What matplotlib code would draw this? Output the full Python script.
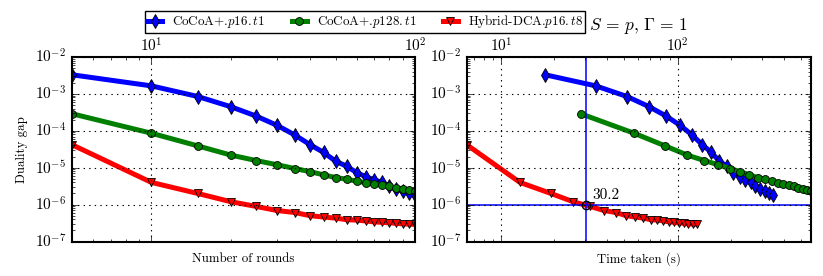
import matplotlib
matplotlib.use('Agg')
import matplotlib.pyplot as plt

# ---------------- data ----------------
rounds = [5, 10, 15, 20, 25, 30, 35, 40, 45, 50, 55, 60, 65, 70, 75, 80, 85, 90, 95, 100]

gap_cocoa_p16 = [3.3e-3, 1.65e-3, 8.5e-4, 4.5e-4, 2.5e-4, 1.4e-4, 7.7e-5, 4.2e-5, 2.6e-5, 1.5e-5,
                 1.1e-5, 7.4e-6, 5.7e-6, 4.7e-6, 4.0e-6, 3.1e-6, 2.6e-6, 2.35e-6, 2.0e-6, 1.8e-6]
gap_cocoa_p128 = [2.9e-4, 8.6e-5, 3.9e-5, 2.2e-5, 1.56e-5, 1.2e-5, 9.5e-6, 7.8e-6, 6.4e-6, 5.4e-6,
                  4.9e-6, 4.3e-6, 3.96e-6, 3.56e-6, 3.37e-6, 3.1e-6, 2.8e-6, 2.66e-6, 2.5e-6, 2.35e-6]
gap_hybrid_p16 = [4.2e-5, 4.0e-6, 2.0e-6, 1.2e-6, 8.9e-7, 6.9e-7, 6.1e-7, 5.0e-7, 4.6e-7, 4.3e-7,
                  3.9e-7, 3.8e-7, 3.6e-7, 3.4e-7, 3.3e-7, 3.2e-7, 3.1e-7, 3.0e-7, 2.95e-7, 2.9e-7]

time_cocoa_p16 = [17.8, 34.4, 51.7, 69.0, 86.3, 103.5, 120.8, 138.0, 155.3, 172.5,
                  189.8, 207.0, 224.3, 241.5, 258.8, 276.0, 293.3, 310.5, 327.8, 345.0]
time_cocoa_p128 = [28.3, 56.7, 85.0, 113.4, 141.7, 170.1, 198.4, 226.8, 255.1, 283.5,
                   311.8, 340.2, 368.5, 396.9, 425.2, 453.6, 481.9, 510.3, 538.6, 567.0]
time_hybrid_p16 = [6.4, 12.8, 19.2, 25.6, 32.0, 38.4, 44.8, 51.2, 57.6, 64.0,
                   70.4, 76.8, 83.2, 89.6, 96.0, 102.4, 108.8, 115.2, 121.6, 128.0]

labels = [r'CoCoA+.$p16{.}t1$', r'CoCoA+.$p128{.}t1$', r'Hybrid-DCA.$p16{.}t8$']
target_gap = 1e-6
target_time = 30.2
title = r'$S\,=\,p,\,\Gamma\,=\,1$'

# ---------------- style ----------------
plt.style.use('classic')
plt.rcParams.update({
    'font.family': ['cmr10'],
    'mathtext.fontset': 'cm',
    'axes.formatter.use_mathtext': True,
    'axes.unicode_minus': False,
    'font.size': 9.4,
    'figure.facecolor': 'white',
    'savefig.facecolor': 'white',
    'xtick.major.size': 4, 'ytick.major.size': 4,
    'xtick.minor.size': 2, 'ytick.minor.size': 2,
    'xtick.labelsize': 11, 'ytick.labelsize': 11,
    'xtick.major.pad': 1.5,
})

colors = ['#0000ff', '#007f00', '#ff0000']
markers = ['d', 'o', 'v']
msizes = [6.8, 5.7, 6]
gaps = [gap_cocoa_p16, gap_cocoa_p128, gap_hybrid_p16]
times = [time_cocoa_p16, time_cocoa_p128, time_hybrid_p16]

fig = plt.figure(figsize=(8.23, 2.76), dpi=100)
ax1 = fig.add_axes([72 / 823, 1 - 241.5 / 276, 343 / 823, 184.5 / 276])
ax2 = fig.add_axes([466.7 / 823, 1 - 241.5 / 276, 344 / 823, 184.5 / 276])

handles = []
for g, t, c, m, ms, lab in zip(gaps, times, colors, markers, msizes, labels):
    h, = ax1.plot(rounds, g, color=c, marker=m, ms=ms, mfc=c, mec='k', mew=0.6,
                  lw=3.6, label=lab)
    ax2.plot(t, g, color=c, marker=m, ms=ms, mfc=c, mec='k', mew=0.6, lw=3.6)
    handles.append(h)

ax2.axvline(target_time, color='#0000ff', lw=1.1)
ax2.axhline(target_gap, color='#0000ff', lw=1.1)
ax2.plot([target_time], [target_gap], 'o', mfc='none', mec='k', mew=1.0, ms=6)
ax2.annotate('30.2', xy=(target_time, target_gap), xytext=(5, 4),
             textcoords='offset points', fontsize=11, va='baseline', ha='left')

for ax in (ax1, ax2):
    ax.set_xscale('log')
    ax.set_yscale('log')
    ax.set_ylim(1e-7, 1e-2)
    ax.grid(True, which='major', color='k', linestyle=':', linewidth=0.8)
    ax.xaxis.set_tick_params(which='both', labeltop=True, labelbottom=False,
                             top=True, bottom=True, direction='in')
    ax.yaxis.set_tick_params(which='both', left=True, right=True, direction='in')
    for sp in ax.spines.values():
        sp.set_linewidth(1.5)

ax1.set_xlim(rounds[0], rounds[-1])
ax2.set_xlim(time_hybrid_p16[0], time_cocoa_p128[-1])

ax1.set_xlabel('Number of rounds', fontsize=9.3, labelpad=8)
ax2.set_xlabel('Time taken (s)', fontsize=9.3, labelpad=8)
ax1.set_ylabel('Duality gap', fontsize=9.3)
ax2.text(0.5, (241.5 - 29.5) / 184.5, title, transform=ax2.transAxes,
         ha='center', va='baseline', fontsize=12.5)

fig.legend(handles=handles, labels=labels, loc='center', ncol=3,
           bbox_to_anchor=(365 / 823, 1 - 22 / 276), numpoints=1,
           handlelength=1.15, handletextpad=0.77, columnspacing=2.0,
           borderpad=0.2, fontsize=9.4, frameon=True, fancybox=False,
           edgecolor='k')

fig.savefig('out.png', dpi=100)
